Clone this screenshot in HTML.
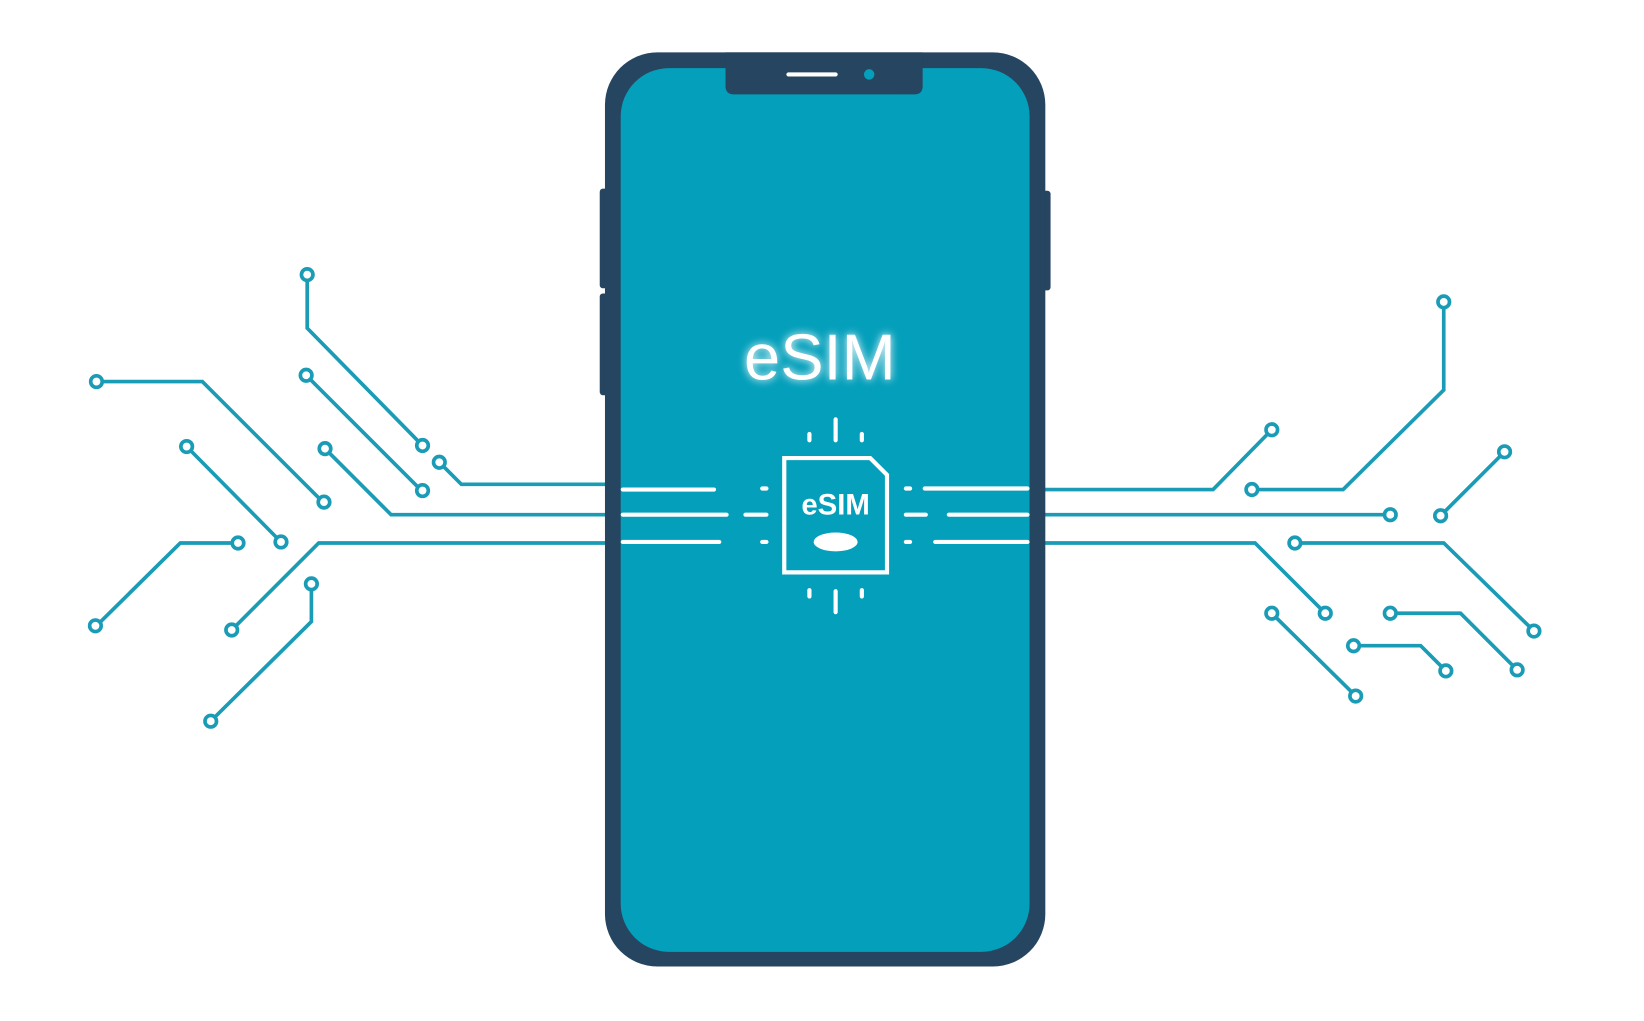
<!DOCTYPE html>
<html><head><meta charset="utf-8"><style>
html,body{margin:0;padding:0;background:#fff;width:1644px;height:1021px;overflow:hidden}
svg{display:block}
</style></head><body>
<svg width="1644" height="1021" viewBox="0 0 1568 974" preserveAspectRatio="none" xmlns="http://www.w3.org/2000/svg">
<defs>
<filter id="glow" x="-30%" y="-30%" width="160%" height="160%">
<feGaussianBlur stdDeviation="4" result="b"/>
<feMerge><feMergeNode in="b"/><feMergeNode in="SourceGraphic"/></feMerge>
</filter>
</defs>
<g fill="none" stroke="#1a9bb6" stroke-width="3.5" stroke-linejoin="miter">
<!-- left -->
<polyline points="293,268 293,313 399,421"/>
<polyline points="296,362 399,465"/>
<polyline points="423,445 440,462 580,462"/>
<polyline points="98,364 193,364 305,476"/>
<polyline points="314,432 373,491 580,491"/>
<polyline points="182,430 264,513"/>
<polyline points="221,518 172,518 95,594"/>
<polyline points="580,518 304,518 225,597"/>
<polyline points="297,563 297,593 205,684"/>
<!-- right -->
<polyline points="994,467 1157,467 1209,414"/>
<polyline points="1377,294 1377,372 1281,467 1200,467"/>
<polyline points="994,491 1320,491"/>
<polyline points="1431,435 1378,488"/>
<polyline points="994,518 1197,518 1260,581"/>
<polyline points="1241,518 1377,518 1459,598"/>
<polyline points="1217,589 1289,660"/>
<polyline points="1332,585 1393,585 1443,635"/>
<polyline points="1297,616 1355,616 1375,636"/>
</g>
<g fill="#fff" stroke="#1a9bb6" stroke-width="3.5">
<circle cx="293" cy="262" r="5.5"/><circle cx="403" cy="425" r="5.5"/>
<circle cx="292" cy="358" r="5.5"/><circle cx="403" cy="468" r="5.5"/>
<circle cx="419" cy="441" r="5.5"/>
<circle cx="92" cy="364" r="5.5"/><circle cx="309" cy="479" r="5.5"/>
<circle cx="310" cy="428" r="5.5"/>
<circle cx="178" cy="426" r="5.5"/><circle cx="268" cy="517" r="5.5"/>
<circle cx="227" cy="518" r="5.5"/><circle cx="91" cy="597" r="5.5"/>
<circle cx="221" cy="601" r="5.5"/>
<circle cx="297" cy="557" r="5.5"/><circle cx="201" cy="688" r="5.5"/>
<circle cx="1213" cy="410" r="5.5"/>
<circle cx="1377" cy="288" r="5.5"/><circle cx="1194" cy="467" r="5.5"/>
<circle cx="1326" cy="491" r="5.5"/>
<circle cx="1435" cy="431" r="5.5"/><circle cx="1374" cy="492" r="5.5"/>
<circle cx="1264" cy="585" r="5.5"/>
<circle cx="1235" cy="518" r="5.5"/><circle cx="1463" cy="602" r="5.5"/>
<circle cx="1213" cy="585" r="5.5"/><circle cx="1293" cy="664" r="5.5"/>
<circle cx="1326" cy="585" r="5.5"/><circle cx="1447" cy="639" r="5.5"/>
<circle cx="1291" cy="616" r="5.5"/><circle cx="1379" cy="640" r="5.5"/>
</g>
<!-- phone -->
<rect x="572" y="180" width="10" height="95" rx="3" fill="#264560"/>
<rect x="572" y="280" width="10" height="97" rx="3" fill="#264560"/>
<rect x="992" y="182" width="10" height="95" rx="3" fill="#264560"/>
<rect x="577" y="50" width="420" height="872" rx="50" fill="#264560"/>
<rect x="592" y="65" width="390" height="843" rx="46" fill="#039fbb"/>
<path d="M692,50 H880 V82 Q880,90 872,90 H700 Q692,90 692,82 Z" fill="#264560"/>
<line x1="752" y1="71" x2="797" y2="71" stroke="#fff" stroke-width="4" stroke-linecap="round"/>
<circle cx="829" cy="71" r="5" fill="#039fbb"/>
<text x="782" y="362" text-anchor="middle" font-family="'Liberation Sans',sans-serif" font-size="62" fill="#fff" filter="url(#glow)">eSIM</text>
<g stroke="#fff" stroke-width="4" stroke-linecap="round" fill="none">
<path d="M748,437 H830 L846,453 V546 H748 Z"/>
<line x1="797" y1="400" x2="797" y2="420"/>
<line x1="772" y1="414" x2="772" y2="420"/>
<line x1="822" y1="414" x2="822" y2="420"/>
<line x1="797" y1="564" x2="797" y2="584"/>
<line x1="772" y1="563" x2="772" y2="569"/>
<line x1="822" y1="563" x2="822" y2="569"/>
<line x1="594" y1="467" x2="681" y2="467"/>
<line x1="594" y1="491" x2="693" y2="491"/>
<line x1="594" y1="517" x2="686" y2="517"/>
<line x1="727" y1="466" x2="731" y2="466"/>
<line x1="711" y1="491" x2="731" y2="491"/>
<line x1="727" y1="517" x2="731" y2="517"/>
<line x1="864" y1="466" x2="868" y2="466"/>
<line x1="864" y1="491" x2="883" y2="491"/>
<line x1="864" y1="517" x2="868" y2="517"/>
<line x1="882" y1="466" x2="980" y2="466"/>
<line x1="905" y1="491" x2="980" y2="491"/>
<line x1="892" y1="517" x2="980" y2="517"/>
</g>
<text x="797" y="491" text-anchor="middle" font-family="'Liberation Sans',sans-serif" font-weight="bold" font-size="28" fill="#fff">eSIM</text>
<ellipse cx="797" cy="517" rx="21" ry="9" fill="#fff"/>
</svg>
</body></html>
